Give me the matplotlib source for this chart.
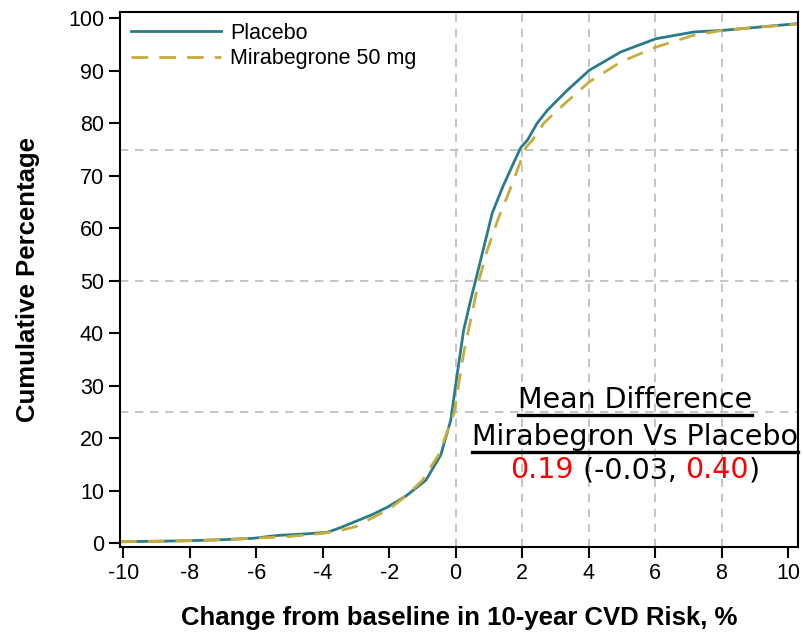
import matplotlib
matplotlib.use("Agg")
from matplotlib import pyplot as plt
from matplotlib.lines import Line2D

# Placebo cumulative distribution
placebo_x = [-10.1, -9, -8, -7, -6.1, -5.36, -4.5, -3.86, -3.46, -3, -2.5, -2.05, -1.5, -0.9, -0.45,
             -0.15, 0.05, 0.24, 0.45, 0.6, 0.8, 1.1, 1.41, 1.71, 1.96, 2.16, 2.45, 2.76, 3.36,
             4.02, 4.97, 6.02, 7.17, 8.03, 9.09, 10.3]
placebo_y = [0.3, 0.4, 0.5, 0.7, 0.95, 1.5, 1.8, 2.1, 3.0, 4.2, 5.5, 6.9, 9.0, 12.0, 16.8,
             23.4, 32.4, 40.6, 46.3, 50.1, 55.2, 62.9, 67.8, 72, 75.4, 76.8, 80, 82.5, 86.3,
             90.1, 93.6, 96.1, 97.4, 97.7, 98.3, 99.0]

# Mirabegron 50 mg cumulative distribution
mira_x = [-10.1, -9, -8, -7, -6, -5, -4, -3.5, -3, -2.65, -2, -1.5, -1, -0.5, -0.05,
          0.24, 0.7, 0.95, 1.26, 1.66, 2.11, 2.31, 2.65, 3.06, 4.02, 4.97, 6.02, 7.17,
          8.03, 9.09, 10.3]
mira_y = [0.3, 0.4, 0.5, 0.7, 1.0, 1.3, 1.9, 2.4, 3.2, 4.4, 6.5, 9, 12, 17, 24.8,
          36.2, 50.1, 55.8, 61.5, 67.8, 75.4, 76.8, 80, 82.5, 87.9, 91.7, 94.5, 96.8,
          97.7, 98.3, 98.9]

x_ticks = [-10, -8, -6, -4, -2, 0, 2, 4, 6, 8, 10]
y_ticks = [0, 10, 20, 30, 40, 50, 60, 70, 80, 90, 100]

plt.rcParams['font.family'] = ['Liberation Sans', 'DejaVu Sans']
plt.rcParams['axes.unicode_minus'] = False

fig = plt.figure(figsize=(8.04, 6.36), dpi=100)
ax = fig.add_axes([120 / 804, 1 - 547 / 636, 678 / 804, 535 / 636])

# Reference lines
for yv in [25, 50, 75]:
    ax.axhline(yv, color="#bbbbbb", lw=1.2, ls=(0, (5, 4)), zorder=0)
for xv in [0, 2, 4, 6, 8]:
    ax.axvline(xv, color="#bbbbbb", lw=1.2, ls=(0, (5, 4)), zorder=0)

ax.plot(placebo_x, placebo_y, color="#2b7c8a", lw=2, label="Placebo")
ax.plot(mira_x, mira_y, color="#c9ad3c", lw=2, ls=(0, (6, 4)), label="Mirabegrone 50 mg")

ax.set_xlim(-10.1, 10.3)
ax.set_ylim(-0.7, 101.2)
ax.set_xticks(x_ticks)
ax.set_yticks(y_ticks)
ax.tick_params(axis="both", labelsize=15.5, length=8, width=1.5, direction="out")
for s in ax.spines.values():
    s.set_linewidth(1.5)

ax.set_xlabel("Change from baseline in 10-year CVD Risk, %", fontsize=18.5, fontweight="bold",
              labelpad=16)
ax.set_ylabel("Cumulative Percentage", fontsize=18.5, fontweight="bold", labelpad=20)

ax.legend(loc="upper left", frameon=False, fontsize=15.5, handlelength=4.2,
          borderaxespad=0.1, labelspacing=0.2, handletextpad=0.4)

# Mean difference annotation
fs = 20.5
fam = ["DejaVu Sans"]
t1 = fig.text(635 / 804, 1 - 400 / 636, "Mean Difference", ha="center", va="center",
              fontsize=fs, family=fam)
t2 = fig.text(635 / 804, 1 - 437 / 636, "Mirabegron Vs Placebo", ha="center", va="center",
              fontsize=fs, family=fam)
fig.canvas.draw()
r = fig.canvas.get_renderer()
for t in (t1, t2):
    bb = t.get_window_extent(r)
    yline = bb.y0 - 1
    fig.add_artist(Line2D([bb.x0 / fig.bbox.width, bb.x1 / fig.bbox.width],
                          [yline / fig.bbox.height] * 2, color="black", lw=2.4,
                          transform=fig.transFigure))

parts = [("0.19", "red"), (" (-0.03, ", "black"), ("0.40", "red"), (")", "black")]
widths = []
for s, c in parts:
    tt = fig.text(0, 0, s, fontsize=fs, family=fam)
    widths.append(tt.get_window_extent(r).width)
    tt.remove()
xpos = 635 - sum(widths) / 2
for (s, c), w in zip(parts, widths):
    fig.text(xpos / 804, 1 - 470 / 636, s, ha="left", va="center", fontsize=fs,
             color=c, family=fam)
    xpos += w

fig.savefig("out.png", dpi=100)
